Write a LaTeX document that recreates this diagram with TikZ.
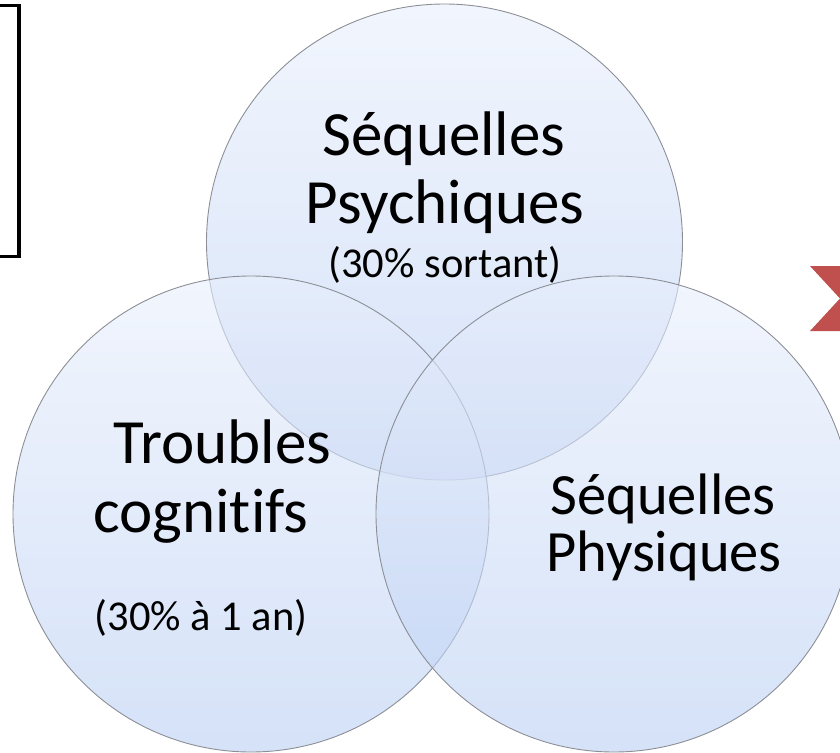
\documentclass[tikz,border=0pt]{standalone}
\usepackage{fontspec}
\setmainfont[Ligatures=NoCommon]{Carlito}
\definecolor{ctop}{HTML}{E8EFFC}
\definecolor{cbot}{HTML}{B9CEF3}
\definecolor{cedge}{HTML}{8C8F96}
\definecolor{chev}{HTML}{C0504D}
\tikzset{
  venn/.style={top color=ctop, bottom color=cbot, fill opacity=0.6, draw=cedge, draw opacity=1, line width=0.9pt},
  bigtxt/.style={anchor=base, inner sep=0pt, font=\fontsize{63}{68}\selectfont},
  midtxt/.style={anchor=base, inner sep=0pt, font=\fontsize{58.5}{62}\selectfont},
  smalltxt/.style={anchor=base, inner sep=0pt, font=\fontsize{42.5}{48}\selectfont},
}
\begin{document}
\begin{tikzpicture}[x=1pt,y=-1pt]
\useasboundingbox (0,0) rectangle (840,752);
% left box fragment
\draw[line width=3.4pt, black] (-20,5.7) -- (19,5.7) -- (19,256.5) -- (-20,256.5);
% chevron fragment
\fill[chev] (810,266) -- (860,266) -- (860,331) -- (810,331) -- (840,298.5) -- cycle;
% circles
\path[venn] (444.5,242) circle[radius=238];
\path[venn] (251,514) circle[radius=238];
\path[venn] (614,514) circle[radius=238];
% texts
\node[bigtxt] (t1) at (444,155) {Séquelles};
\node[bigtxt] (t2) at (445,223) {Psychiques};
\node[smalltxt] (t3) at (445,277) {(30\% sortant)};
\node[bigtxt] (l1) at (222.5,463) {Troubles};
\node[bigtxt] (l2) at (201,532) {cognitifs};
\node[smalltxt] (l3) at (201,630) {(30\% à 1 an)};
\node[midtxt] (r1) at (663,514) {Séquelles};
\node[midtxt] (r2) at (664,571) {Physiques};
\end{tikzpicture}
\end{document}
